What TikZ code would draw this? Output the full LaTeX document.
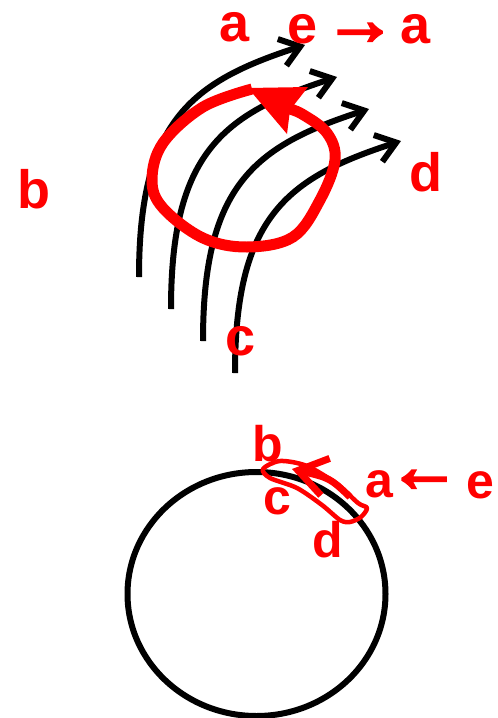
\documentclass[tikz,border=0pt]{standalone}
\usepackage{fontspec}
\setmainfont{Liberation Sans}
\newfontfamily\arrowfont[FakeBold=4]{Liberation Sans}
\usetikzlibrary{arrows.meta}

\begin{document}
\begin{tikzpicture}[
    x=1pt, y=-1pt,
    lbl/.style={
        text=red,
        inner sep=0pt,
        font=\fontsize{54}{54}\selectfont\bfseries
    },
    lblsmall/.style={
        lbl,
        font=\fontsize{50}{50}\selectfont\bfseries
    },
    arrowsign/.style={
        lbl,
        font=\fontsize{72}{72}\selectfont\arrowfont
    },
    fieldline/.style={
        draw=black,
        line width=6pt,
        -{Straight Barb[length=19pt,width=28pt]}
    },
    swirl/.style={draw=red, line width=11pt, line join=round},
    patch/.style={draw=red, line width=4.5pt, line join=round},
    patcharrow/.style={
        draw=red,
        line width=7pt,
        -{Straight Barb[length=28pt,width=38pt]}
    }
]
    \useasboundingbox (0,0) rectangle (498,718);

    % upper sketch: four bent field lines
    \foreach \i in {0,...,3} {
        \coordinate (s\i) at (139+32*\i, 277+32*\i);
        \coordinate (t\i) at (305+32*\i, 45+32*\i);
        \draw[fieldline] (s\i) .. controls ++(0,-155) and ++(-115,37) .. (t\i);
    }

    % red circulation loop with its head
    \draw[swirl] plot[smooth, tension=0.6] coordinates {
        (252,89) (203,107) (163,143) (152,180) (163,208) (203,238)
        (247,247) (293,237) (320,200) (335,160) (327,133) (302,114) (286,108)};
    \fill[red] (248,88) -- (308,87) -- (290,110) -- (287,134) -- cycle;

    \node[lbl] (a1) at (235,27) {a};
    \node[lbl] (e1) at (303,29) {e};
    \node[arrowsign] (to) at (360,34) {→};
    \node[lbl] (a2) at (416,29) {a};
    \node[lbl] (b1) at (34,189) {b};
    \node[lbl] (d1) at (426,172) {d};
    \node[lbl] (c1) at (241,341) {c};

    % lower sketch: the sphere and the patch on its rim
    \draw[line width=6pt] (256.5,594) ellipse [x radius=129, y radius=122];

    \draw[patch] plot[smooth cycle, tension=0.5] coordinates {
        (263,469) (280,461) (307,466) (337,484) (358,503) (367,508)
        (361,517) (350,522) (340,520) (322,505) (297,488) (270,478)};
    \coordinate (p0) at (350,497);
    \coordinate (p1) at (292,469);
    \draw[patcharrow] (p0) .. controls (330,478) .. (p1);

    \node[lblsmall] (b2) at (268,444) {b};
    \node[lblsmall] (c2) at (277,501) {c};
    \node[lblsmall] (d2) at (328,540) {d};
    \node[lblsmall] (a3) at (379,484) {a};
    \node[arrowsign] (from) at (424,481) {←};
    \node[lblsmall] (e2) at (480,485) {e};
\end{tikzpicture}
\end{document}
